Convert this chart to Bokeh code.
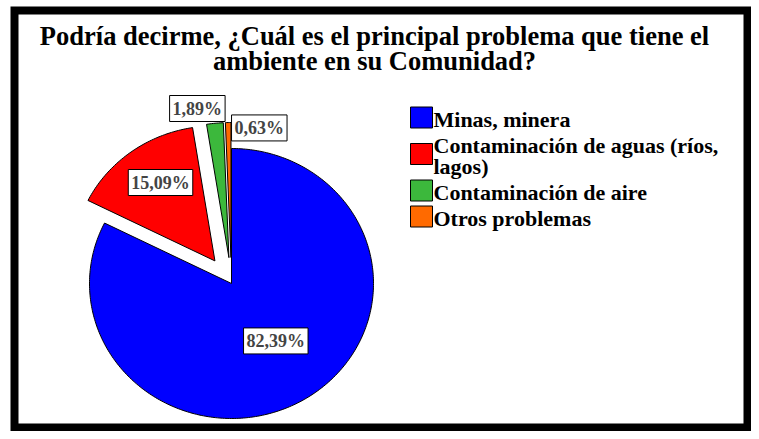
import math
from bokeh.plotting import figure
from bokeh.models import Range1d, Label
from bokeh.core.properties import value
from bokeh.embed import file_html
from bokeh.resources import INLINE

# ---- data ----
categories = ["Minas, minera", "Contaminación de aguas (ríos,\nlagos)",
              "Contaminación de aire", "Otros problemas"]
percents = [82.39, 15.09, 1.89, 0.63]
labels = ["82,39%", "15,09%", "1,89%", "0,63%"]
colors = ["#0000FF", "#FF0000", "#3CB83C", "#FF6A00"]
title_lines = ["Podría decirme, ¿Cuál es el principal problema que tiene el",
               "ambiente en su Comunidad?"]

# ---- layout / style (data units = pixels) ----
W, H = 751, 431
FONT = "'Liberation Serif', 'Times New Roman', serif"
cx, cy, RX, RY = 231, 148, 142, 135
explode = [0, 28, 26, 26]
label_frac = [0.50, 0.72, 1.11, 0.96]
label_nudge = [7, 6, -16, 31]

p = figure(width=W, height=H, output_backend="svg", toolbar_location=None,
           x_range=Range1d(0, W), y_range=Range1d(0, H), min_border=0,
           x_axis_type=None, y_axis_type=None)
p.grid.visible = False
p.background_fill_color = "white"
p.border_fill_color = "white"
p.outline_line_color = None

# frame border
p.quad(left=[14], right=[747], top=[421], bottom=[4], fill_color=None,
       line_color="black", line_width=8, line_join="miter")

total = sum(percents)
start = math.pi / 2
px, py, ox, oy, mids = [], [], [], [], []
for i, v in enumerate(percents):
    end = start - 2 * math.pi * v / total
    mid = (start + end) / 2
    x0 = cx + explode[i] * math.cos(mid)
    y0 = cy + explode[i] * math.sin(mid)
    n = max(4, int(abs(end - start) * 60))
    angs = [start + (end - start) * k / n for k in range(n + 1)]
    xs = [x0] + [x0 + RX * math.cos(a) for a in angs]
    ys = [y0] + [y0 + RY * math.sin(a) for a in angs]
    px.append(xs); py.append(ys); ox.append(x0); oy.append(y0); mids.append(mid)
    start = end

p.patches(xs=px, ys=py, fill_color=colors, line_color="black", line_width=1)

for i, lab in enumerate(labels):
    lx = ox[i] + label_frac[i] * RX * math.cos(mids[i]) + label_nudge[i]
    ly = oy[i] + label_frac[i] * RY * math.sin(mids[i])
    p.add_layout(Label(x=lx, y=ly, text=lab, text_font=FONT, text_font_style="bold",
                       text_font_size="18px", text_align="center", text_baseline="middle",
                       background_fill_color="white", border_line_color="black",
                       border_line_width=1, padding=3))

# title
for j, t in enumerate(title_lines):
    p.text(x=[374], y=[396 - 25 * j], text=[t], text_font=value(FONT),
           text_font_style="bold", text_font_size="26.5px", text_align="center",
           text_baseline="middle", text_color="black")

# legend
lx0, ly0 = 421, 312
line_h, gap = 21, 26
base = ly0
sq_x, sq_y, tx, ty, tt = [], [], [], [], []
for i, c in enumerate(categories):
    parts = c.split("\n")
    for k, part in enumerate(parts):
        tx.append(lx0 + 12); ty.append(base - k * line_h); tt.append(part)
    last = base - (len(parts) - 1) * line_h
    sq_x.append(lx0); sq_y.append((base + last) / 2 + 2)
    base = last - gap
p.rect(x=sq_x, y=sq_y, width=22, height=21, fill_color=colors, line_color="black",
       line_width=1)
p.text(x=tx, y=ty, text=tt, text_font=value(FONT), text_font_style="bold",
       text_font_size="22px", text_align="left", text_baseline="middle",
       text_color="black")

open("out.html", "w").write(file_html(p, INLINE))
